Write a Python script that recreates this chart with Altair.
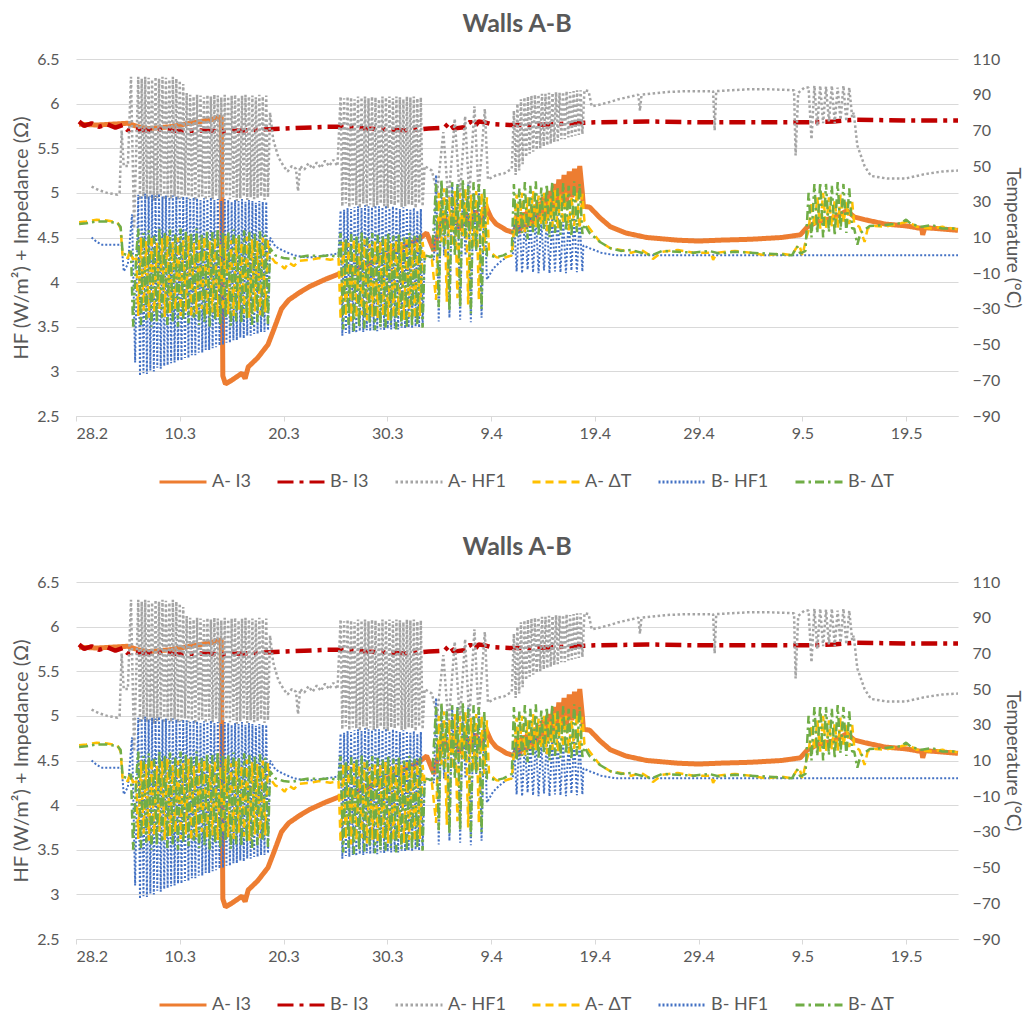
import altair as alt
import numpy as np
import pandas as pd

CHART_TITLE = "Walls A-B"
LEFT_TITLE = "HF (W/m²) + Impedance (Ω)"
RIGHT_TITLE = "Temperature (°C)"

SERIES = ["A- I3", "B- I3", "A- HF1", "A- ΔT", "B- HF1", "B- ΔT"]
COLORS = ["#ED7D31", "#C00000", "#A5A5A5", "#FFC000", "#4472C4", "#70AD47"]
DASHES = [[1, 0], [16, 6, 4, 6], [2.5, 2.5], [8, 5], [2, 2], [9, 4, 2.5, 4]]
WIDTHS = [5, 4.5, 2.5, 2.5, 2, 2.5]
DRAW_ORDER = ["A- I3", "B- I3", "A- HF1", "B- HF1", "A- ΔT", "B- ΔT"]

# x axis: days since 28 Feb
X_TICK_DAYS = [0, 10, 20, 30, 40, 50, 60, 70, 80]
X_TICK_LABELS = ["28.2", "10.3", "20.3", "30.3", "9.4", "19.4", "29.4", "9.5", "19.5"]
X_END_DAY = 85
LEFT_TICKS = [2.5, 3, 3.5, 4, 4.5, 5, 5.5, 6, 6.5]
RIGHT_TICKS = [-90, -70, -50, -30, -10, 10, 30, 50, 70, 90, 110]

# oscillating blocks (start day, end day)
B1 = (6.0, 18.5)
B2 = (25.5, 33.4)
SP = (34.7, 39.6)
B3 = (42.2, 48.8)
B3_ORANGE = (42.5, 48.8)
B4 = (70.6, 74.8)

# ---------------- A- I3 ----------------
A_I3_P1 = [(0.3, 5.77), (2, 5.76), (3.5, 5.77), (5, 5.78), (6, 5.74), (7, 5.72), (9, 5.74),
           (11, 5.78), (13, 5.82), (14.0, 5.85), (14.15, 2.95), (14.4, 2.86), (15, 2.9),
           (16, 2.98), (16.3, 2.92), (16.6, 3.05), (17.5, 3.15), (18.5, 3.3), (19.0, 3.45),
           (19.8, 3.7), (20.5, 3.8), (21.5, 3.88), (22.5, 3.95), (24, 4.03), (25.5, 4.1),
           (27, 4.15), (30, 4.3), (33, 4.48), (33.8, 4.55), (34.5, 4.35), (35.0, 4.6),
           (35.5, 4.72), (36.0, 4.62), (36.5, 4.78), (37.0, 4.58), (37.5, 4.78), (38.0, 4.6),
           (38.5, 4.8), (39.0, 4.62), (39.5, 4.85), (40.0, 4.72), (40.5, 4.65), (41.5, 4.58),
           (42.3, 4.55)]
A_I3_B3_HI = [4.75, 4.78, 4.80, 4.85, 4.90, 4.95, 5.02, 5.10, 5.15, 5.20, 5.24, 5.27, 5.30]
A_I3_B3_LO = [4.55, 4.60, 4.62, 4.65, 4.68, 4.70, 4.75, 4.80, 4.85, 4.90, 4.95, 5.00, 5.00]
A_I3_P2 = [(48.9, 4.85), (49.5, 4.84), (50.5, 4.72), (51.5, 4.62), (53, 4.55), (55, 4.5),
           (58, 4.47), (60, 4.46), (62, 4.47), (65, 4.48), (68, 4.5), (69.8, 4.53),
           (70.5, 4.62), (71.5, 4.68), (73, 4.72), (74.3, 4.8), (75, 4.73), (76, 4.7),
           (78, 4.65), (80, 4.63), (81.5, 4.6), (81.6, 4.53), (81.8, 4.61), (83, 4.6), (85, 4.58)]

# ---------------- B- I3 ----------------
B_I3_P1 = [(0.3, 5.8), (0.8, 5.75), (1.5, 5.78), (2.2, 5.74), (3, 5.77), (3.8, 5.73),
           (4.5, 5.76), (5, 5.7), (5.5, 5.72), (6.5, 5.7), (8, 5.71), (10, 5.69), (12, 5.7),
           (14, 5.69), (16, 5.7), (18, 5.71), (20, 5.72), (22, 5.73), (24, 5.74), (26, 5.74),
           (28, 5.72), (30, 5.71), (32, 5.7), (34, 5.72), (35.5, 5.73), (36.0, 5.79),
           (36.4, 5.72), (37.6, 5.74), (38.0, 5.8), (38.4, 5.74), (38.8, 5.8), (39.4, 5.79),
           (40, 5.77), (42, 5.76), (44, 5.76), (46, 5.77), (48, 5.78), (50, 5.79), (55, 5.8),
           (60, 5.79), (65, 5.79), (70, 5.79), (73, 5.8), (75, 5.82), (80, 5.81), (85, 5.81)]

# ---------------- A- HF1 ----------------
A_HF1_P1 = [(1.5, 5.07), (2.2, 5.03), (3, 5.0), (4, 4.98), (4.2, 5.0), (4.4, 5.7), (4.6, 5.3),
            (5.0, 5.3), (5.3, 6.3), (5.6, 4.6)]
A_HF1_B1_HI = [6.30, 6.28, 6.30, 6.29, 6.27, 6.30, 6.28, 6.30, 6.29, 6.27, 6.30, 6.28, 6.26,
               6.22, 6.12, 6.10, 6.08, 6.10, 6.09, 6.07, 6.10, 6.08, 6.10, 6.09, 6.07, 6.10,
               6.08, 6.09, 6.10, 6.07, 6.09, 6.10, 6.08, 6.09, 6.07, 6.10, 6.08, 6.09]
A_HF1_B1_LO = [4.92, 4.96, 4.93, 4.95, 4.91, 4.94, 4.97, 4.92, 4.95, 4.93, 4.96, 4.92, 4.94,
               4.97, 4.93, 4.95, 4.91, 4.94, 4.96, 4.92, 4.95, 4.93, 4.97, 4.92, 4.94, 4.96,
               4.93, 4.95, 4.91, 4.94, 4.96, 4.92, 4.95, 4.93, 4.94, 4.96, 4.92, 4.95]
A_HF1_P2 = [(18.7, 5.9), (19.0, 5.6), (19.5, 5.4), (20, 5.3), (20.4, 5.24), (20.8, 5.3),
            (21.2, 5.27), (21.4, 5.02), (21.6, 5.3), (22, 5.26), (22.4, 5.33), (22.8, 5.27),
            (23.2, 5.34), (23.6, 5.28), (24, 5.36), (24.4, 5.3), (24.8, 5.37), (25.2, 5.3)]
A_HF1_B2_HI = [6.08, 6.06, 6.08, 6.07, 6.05, 6.08, 6.07, 6.08, 6.06, 6.08, 6.07, 6.05, 6.08,
               6.07, 6.08, 6.06, 6.08, 6.07, 6.05, 6.08, 6.07, 6.08, 6.06, 6.07]
A_HF1_B2_LO = [4.85, 4.88, 4.84, 4.87, 4.86, 4.83, 4.88, 4.85, 4.87, 4.84, 4.86, 4.88, 4.85,
               4.83, 4.87, 4.86, 4.88, 4.84, 4.85, 4.87, 4.86, 4.83, 4.88, 4.85]
A_HF1_P3 = [(33.6, 5.3), (34.3, 5.25), (34.8, 5.0), (35.4, 5.68), (35.9, 4.9), (36.5, 5.83),
            (37.0, 4.95), (37.5, 5.86), (37.9, 4.95), (38.4, 5.97), (38.8, 5.0), (39.4, 5.94),
            (39.7, 5.15), (40.5, 5.2), (41.3, 5.22), (42.0, 5.27)]
A_HF1_B3_HI = [5.92, 6.00, 6.05, 6.07, 6.08, 6.09, 6.10, 6.10, 6.11, 6.11, 6.12, 6.12, 6.13,
               6.12, 6.13, 6.14, 6.13, 6.14, 6.15, 6.15]
A_HF1_B3_LO = [5.20, 5.25, 5.32, 5.40, 5.44, 5.46, 5.48, 5.50, 5.52, 5.53, 5.55, 5.57, 5.58,
               5.60, 5.60, 5.62, 5.63, 5.64, 5.65, 5.66]
A_HF1_P4 = [(49.0, 6.15), (49.4, 6.14), (49.7, 5.97), (50.5, 5.99), (51.5, 6.02), (52.3, 6.05),
            (53.5, 6.08), (54.2, 6.1), (54.35, 5.92), (54.5, 6.1), (56.9, 6.13), (59, 6.14),
            (61.4, 6.14), (61.55, 5.7), (61.7, 6.14), (64.7, 6.16), (67, 6.16), (69.2, 6.15),
            (69.35, 5.42), (69.6, 6.12), (70.2, 6.18)]
A_HF1_B4_HI = [6.18, 6.20, 6.20, 6.19, 6.20, 6.18, 6.20, 6.18]
A_HF1_B4_LO = [5.60, 5.75, 5.78, 5.80, 5.78, 5.82, 5.80, 5.85]
A_HF1_P5 = [(74.95, 5.9), (75.3, 5.53), (76.0, 5.3), (76.6, 5.19), (78.2, 5.16), (79.9, 5.16),
            (81.8, 5.21), (83.5, 5.24), (85, 5.25)]

# ---------------- B- HF1 ----------------
B_HF1_P1 = [(1.5, 4.5), (2.0, 4.45), (2.5, 4.42), (3.5, 4.42), (4.4, 4.42), (4.6, 4.12),
            (5.0, 4.2), (5.4, 4.76), (5.7, 3.1)]
B_HF1_B1_HI = [4.98, 4.97, 4.99, 4.96, 4.98, 4.97, 4.99, 4.96, 4.97, 4.95, 4.97, 4.96, 4.94,
               4.96, 4.95, 4.93, 4.95, 4.94, 4.92, 4.94, 4.93, 4.95, 4.92, 4.93, 4.91, 4.93,
               4.92, 4.90, 4.92, 4.91, 4.93, 4.90, 4.92, 4.91, 4.89, 4.91, 4.90, 4.90]
B_HF1_B1_LO = [2.95, 2.98, 2.97, 3.01, 3.00, 3.04, 3.03, 3.06, 3.07, 3.09, 3.10, 3.12, 3.12,
               3.15, 3.15, 3.18, 3.18, 3.21, 3.21, 3.24, 3.24, 3.26, 3.27, 3.29, 3.30, 3.32,
               3.32, 3.35, 3.35, 3.38, 3.37, 3.40, 3.40, 3.42, 3.42, 3.44, 3.44, 3.46]
B_HF1_P2 = [(18.7, 4.5), (19.2, 4.4), (20, 4.35), (21, 4.3), (22, 4.28), (23, 4.28), (24, 4.3),
            (25.3, 4.32)]
B_HF1_B2_HI = [4.80, 4.81, 4.83, 4.82, 4.84, 4.85, 4.83, 4.86, 4.85, 4.84, 4.86, 4.85, 4.84,
               4.86, 4.83, 4.85, 4.84, 4.82, 4.84, 4.83, 4.81, 4.83, 4.80, 4.82]
B_HF1_B2_LO = [3.40, 3.43, 3.42, 3.44, 3.43, 3.45, 3.44, 3.46, 3.45, 3.46, 3.45, 3.47, 3.46,
               3.48, 3.47, 3.48, 3.47, 3.49, 3.48, 3.49, 3.48, 3.50, 3.49, 3.50]
B_HF1_P3 = [(33.6, 4.3), (34.1, 4.28), (34.5, 4.25)]
B_HF1_SP_HI = [5.20, 5.10, 5.05, 5.10, 5.10, 5.05, 5.10, 5.00, 5.05, 4.90]
B_HF1_SP_LO = [3.56, 4.30, 3.60, 4.40, 3.58, 4.30, 3.55, 4.35, 3.60, 4.03]
B_HF1_P4 = [(40.2, 4.15), (40.8, 4.22), (41.5, 4.28), (42.1, 4.3)]
B_HF1_B3_HI = [4.72, 4.74, 4.70, 4.73, 4.75, 4.71, 4.74, 4.72, 4.75, 4.70, 4.73, 4.74, 4.71]
B_HF1_B3_LO = [4.12, 4.10, 4.14, 4.11, 4.10, 4.13, 4.10, 4.12, 4.11, 4.10, 4.13, 4.11, 4.12]
B_HF1_P5 = [(48.9, 4.41), (49.5, 4.38), (50.6, 4.33), (52, 4.3), (55, 4.3), (60, 4.3),
            (65, 4.3), (70, 4.3), (75, 4.3), (80, 4.3), (85, 4.3)]

# ---------------- A- ΔT ----------------
A_DT_P1 = [(0.3, 4.67), (1, 4.68), (2, 4.7), (3, 4.69), (4, 4.67), (4.3, 4.6), (4.5, 4.28),
           (5.0, 4.27), (5.2, 4.35), (5.5, 4.25), (5.8, 4.3)]
A_DT_B1_HI = [4.50, 4.46, 4.52, 4.44, 4.49, 4.53, 4.45, 4.50, 4.47, 4.52, 4.44, 4.49, 4.51,
              4.46, 4.50, 4.43, 4.52, 4.47, 4.49, 4.45, 4.51, 4.48, 4.46, 4.50, 4.47]
A_DT_B1_LO = [3.62, 3.68, 3.60, 3.66, 3.70, 3.61, 3.65, 3.69, 3.62, 3.67, 3.60, 3.64, 3.70,
              3.63, 3.66, 3.61, 3.68, 3.64, 3.62, 3.69, 3.65, 3.60, 3.67, 3.63, 3.66]
A_DT_P2 = [(18.7, 4.3), (19.2, 4.22), (19.7, 4.2), (20.1, 4.15), (20.5, 4.22), (21, 4.18),
           (21.5, 4.24), (22.5, 4.25), (23.5, 4.27), (24.5, 4.25), (25.3, 4.27)]
A_DT_B2_HI = [4.47, 4.44, 4.49, 4.45, 4.48, 4.43, 4.47, 4.46, 4.49, 4.44, 4.47, 4.45, 4.48,
              4.44, 4.46, 4.45]
A_DT_B2_LO = [3.58, 3.62, 3.56, 3.60, 3.63, 3.57, 3.61, 3.59, 3.62, 3.57, 3.60, 3.63, 3.58,
              3.61, 3.59, 3.62]
A_DT_P3 = [(33.6, 4.27), (34.3, 4.25)]
A_DT_SP_HI = [5.00, 5.05, 4.95, 5.02, 5.00, 5.05, 4.98, 5.02, 5.00, 4.95]
A_DT_SP_LO = [3.80, 4.45, 3.78, 4.40, 3.82, 4.50, 3.75, 4.40, 3.80, 4.35]
A_DT_P4 = [(39.8, 4.35), (40.5, 4.28), (41.2, 4.27), (42.0, 4.3)]
A_DT_B3_HI = [4.98, 5.00, 4.95, 5.02, 4.97, 5.00, 4.96, 5.03, 4.98, 5.00, 4.97, 5.02, 4.99]
A_DT_B3_LO = [4.58, 4.62, 4.56, 4.63, 4.60, 4.64, 4.57, 4.62, 4.60, 4.65, 4.58, 4.63, 4.60]
A_DT_P5 = [(49.0, 4.68), (49.5, 4.6), (50.5, 4.45), (51.5, 4.38), (52.5, 4.36), (53.5, 4.33),
           (54.5, 4.36), (55.3, 4.3), (55.6, 4.26), (56.5, 4.34), (58, 4.36), (59.5, 4.33),
           (61.2, 4.33), (61.4, 4.25), (61.8, 4.33), (63.5, 4.35), (65, 4.33), (66.5, 4.3),
           (68, 4.32), (69.0, 4.3), (69.4, 4.38), (69.7, 4.42), (70.0, 4.3), (70.4, 4.5)]
A_DT_B4_HI = [4.90, 4.95, 5.00, 4.95, 4.92, 4.98, 4.90, 4.90]
A_DT_B4_LO = [4.58, 4.62, 4.60, 4.60, 4.62, 4.60, 4.65, 4.65]
A_DT_P6 = [(75.0, 4.65), (75.5, 4.62), (76.0, 4.45), (76.3, 4.6), (77, 4.63), (78, 4.62),
           (79.5, 4.66), (80.2, 4.68), (81, 4.62), (82.5, 4.6), (83.5, 4.62), (85, 4.59)]

# ---------------- B- ΔT ----------------
B_DT_P1 = [(0.3, 4.65), (1, 4.66), (2, 4.68), (3, 4.68), (4, 4.66), (4.3, 4.62), (4.5, 4.32),
           (5.0, 4.3), (5.3, 4.35), (5.5, 3.5), (5.8, 4.3)]
B_DT_B1_HI = [4.60, 4.55, 4.58, 4.52, 4.60, 4.56, 4.59, 4.54, 4.60, 4.57, 4.55, 4.60, 4.53,
              4.58, 4.56, 4.60, 4.55, 4.57, 4.59, 4.54, 4.58, 4.56, 4.55, 4.57, 4.53]
B_DT_B1_LO = [3.52, 3.58, 3.50, 3.55, 3.60, 3.52, 3.56, 3.50, 3.58, 3.54, 3.60, 3.52, 3.55,
              3.50, 3.57, 3.53, 3.60, 3.51, 3.56, 3.54, 3.58, 3.52, 3.55, 3.60, 3.53]
B_DT_P2 = [(18.7, 4.38), (19.2, 4.3), (20, 4.27), (20.8, 4.26), (21.5, 4.28), (22.5, 4.3),
           (23.5, 4.29), (24.5, 4.3), (25.3, 4.28)]
B_DT_B2_HI = [4.55, 4.50, 4.54, 4.52, 4.56, 4.50, 4.55, 4.53, 4.51, 4.55, 4.52, 4.54, 4.50,
              4.55, 4.52, 4.53]
B_DT_B2_LO = [3.47, 3.52, 3.45, 3.50, 3.48, 3.53, 3.46, 3.50, 3.49, 3.52, 3.47, 3.51, 3.48,
              3.50, 3.52, 3.49]
B_DT_P3 = [(33.6, 4.3), (34.3, 4.28)]
B_DT_SP_HI = [5.10, 5.15, 5.05, 5.12, 5.10, 5.15, 5.08, 5.12, 5.10, 5.05]
B_DT_SP_LO = [3.72, 4.40, 3.68, 4.30, 3.72, 4.50, 3.65, 4.35, 3.70, 4.30]
B_DT_P4 = [(39.8, 4.3), (40.5, 4.28), (41.2, 4.3), (42.0, 4.35)]
B_DT_B3_HI = [5.10, 5.05, 5.12, 5.08, 5.13, 5.06, 5.10, 5.12, 5.05, 5.11, 5.08, 5.13, 5.10]
B_DT_B3_LO = [4.50, 4.55, 4.48, 4.56, 4.52, 4.58, 4.50, 4.55, 4.53, 4.57, 4.51, 4.56, 4.54]
B_DT_P5 = [(49.0, 4.65), (49.5, 4.55), (50.5, 4.45), (51.5, 4.38), (52.5, 4.35), (53.5, 4.36),
           (54.5, 4.33), (55.5, 4.3), (56.5, 4.35), (58, 4.34), (59.5, 4.33), (61, 4.35),
           (62, 4.32), (63.5, 4.34), (65, 4.33), (66.5, 4.32), (68, 4.31), (69.0, 4.3),
           (69.5, 4.4), (69.8, 4.32), (70.3, 4.35)]
B_DT_B4_HI = [5.00, 5.10, 5.12, 5.10, 5.08, 5.12, 5.10, 5.05]
B_DT_B4_LO = [4.50, 4.55, 4.50, 4.56, 4.52, 4.58, 4.55, 4.60]
B_DT_P6 = [(75.0, 4.6), (75.3, 4.42), (75.6, 4.55), (76.5, 4.63), (78, 4.64), (79.5, 4.66),
           (80, 4.7), (80.5, 4.65), (81.5, 4.62), (82.5, 4.64), (83.5, 4.6), (85, 4.6)]


def zig(span, hi, lo, hi_first=True):
    """Interleave read high/low values of an oscillating block at even time steps."""
    vals = []
    for h, l in zip(hi, lo):
        vals += [h, l] if hi_first else [l, h]
    ts = np.linspace(span[0], span[1], len(vals))
    return list(zip(ts, vals))


PARTS = {
    "A- I3": [A_I3_P1, zig(B3_ORANGE, A_I3_B3_HI, A_I3_B3_LO), A_I3_P2],
    "B- I3": [B_I3_P1],
    "A- HF1": [A_HF1_P1, zig(B1, A_HF1_B1_HI, A_HF1_B1_LO), A_HF1_P2,
               zig(B2, A_HF1_B2_HI, A_HF1_B2_LO), A_HF1_P3,
               zig(B3, A_HF1_B3_HI, A_HF1_B3_LO), A_HF1_P4,
               zig(B4, A_HF1_B4_HI, A_HF1_B4_LO), A_HF1_P5],
    "B- HF1": [B_HF1_P1, zig(B1, B_HF1_B1_HI, B_HF1_B1_LO), B_HF1_P2,
               zig(B2, B_HF1_B2_HI, B_HF1_B2_LO), B_HF1_P3,
               zig(SP, B_HF1_SP_HI, B_HF1_SP_LO), B_HF1_P4,
               zig(B3, B_HF1_B3_HI, B_HF1_B3_LO), B_HF1_P5],
    "A- ΔT": [A_DT_P1, zig(B1, A_DT_B1_HI, A_DT_B1_LO, False), A_DT_P2,
              zig(B2, A_DT_B2_HI, A_DT_B2_LO, False), A_DT_P3,
              zig(SP, A_DT_SP_HI, A_DT_SP_LO, False), A_DT_P4,
              zig(B3, A_DT_B3_HI, A_DT_B3_LO, False), A_DT_P5,
              zig(B4, A_DT_B4_HI, A_DT_B4_LO, False), A_DT_P6],
    "B- ΔT": [B_DT_P1, zig(B1, B_DT_B1_HI, B_DT_B1_LO), B_DT_P2,
              zig(B2, B_DT_B2_HI, B_DT_B2_LO), B_DT_P3,
              zig(SP, B_DT_SP_HI, B_DT_SP_LO), B_DT_P4,
              zig(B3, B_DT_B3_HI, B_DT_B3_LO), B_DT_P5,
              zig(B4, B_DT_B4_HI, B_DT_B4_LO), B_DT_P6],
}

rows = []
for s, parts in PARTS.items():
    i = 0
    for part in parts:
        for t, v in part:
            rows.append({"series": s, "t": float(t), "v": float(v), "idx": i})
            i += 1
df = pd.DataFrame(rows)
df_right = pd.DataFrame({"temp": RIGHT_TICKS})

TEXT = "#595959"
GRID = "#D9D9D9"
FONT = "Lato"

label_expr = "[" + ",".join("'%s'" % s for s in X_TICK_LABELS) + "][round(datum.value/10)]"

legend = alt.Legend(
    title=None, orient="none", legendX=82, legendY=398, direction="horizontal",
    symbolType="stroke", symbolSize=2209, symbolStrokeWidth=3, labelFontSize=18,
    labelFont=FONT, labelColor=TEXT, labelOffset=4, columnPadding=20,
)


def make_panel():
    layers = []
    for s in DRAW_ORDER:
        w = WIDTHS[SERIES.index(s)]
        layers.append(
            alt.Chart()
            .transform_filter(alt.datum.series == s)
            .mark_line(strokeWidth=w, strokeCap="butt", strokeJoin="bevel")
            .encode(
                x=alt.X("t:Q", scale=alt.Scale(domain=[0, X_END_DAY], nice=False, zero=False),
                        axis=alt.Axis(values=X_TICK_DAYS, labelExpr=label_expr, grid=False,
                                      domainColor=GRID, tickColor=GRID, tickSize=5,
                                      labelFontSize=16, labelFont=FONT, labelColor=TEXT,
                                      labelPadding=4),
                        title=None),
                y=alt.Y("v:Q", scale=alt.Scale(domain=[LEFT_TICKS[0], LEFT_TICKS[-1]], nice=False, zero=False),
                        axis=alt.Axis(values=LEFT_TICKS, format="~g", grid=True, gridColor=GRID,
                                      domain=False, ticks=False, labelFontSize=16, labelFont=FONT,
                                      labelColor=TEXT, labelPadding=17, titleFontSize=20,
                                      titleFont=FONT, titleColor=TEXT, titleFontWeight="normal",
                                      titlePadding=5),
                        title=LEFT_TITLE),
                color=alt.Color("series:N", scale=alt.Scale(domain=SERIES, range=COLORS), legend=legend),
                strokeDash=alt.StrokeDash("series:N", scale=alt.Scale(domain=SERIES, range=DASHES), legend=legend),
                order=alt.Order("idx:Q"),
            )
        )
    lines = alt.layer(*layers, data=df)
    right = alt.Chart(df_right).mark_point(opacity=0).encode(
        y=alt.Y("temp:Q", scale=alt.Scale(domain=[RIGHT_TICKS[0], RIGHT_TICKS[-1]], nice=False, zero=False),
                axis=alt.Axis(orient="right", values=RIGHT_TICKS, grid=False, domain=False, ticks=False,
                              labelFontSize=16, labelFont=FONT, labelColor=TEXT, labelPadding=14,
                              titleFontSize=19, titleFont=FONT, titleColor=TEXT,
                              titleFontWeight="normal", titlePadding=3),
                title=RIGHT_TITLE)
    )
    return (
        alt.layer(lines, right)
        .resolve_scale(y="independent")
        .properties(width=882, height=357, title=alt.Title(CHART_TITLE, offset=14))
    )


chart = (
    alt.vconcat(make_panel(), make_panel(), spacing=44)
    .resolve_scale(x="independent", y="independent", color="independent", strokeDash="independent")
    .resolve_legend(color="independent", strokeDash="independent")
    .properties(padding={"left": 3, "top": 4, "right": 4, "bottom": 0})
    .configure_view(stroke=None)
    .configure_title(fontSize=25, font=FONT, fontWeight="bold", color=TEXT, anchor="middle")
)

chart.save("out.html", embed_options={"renderer": "svg", "actions": False})
